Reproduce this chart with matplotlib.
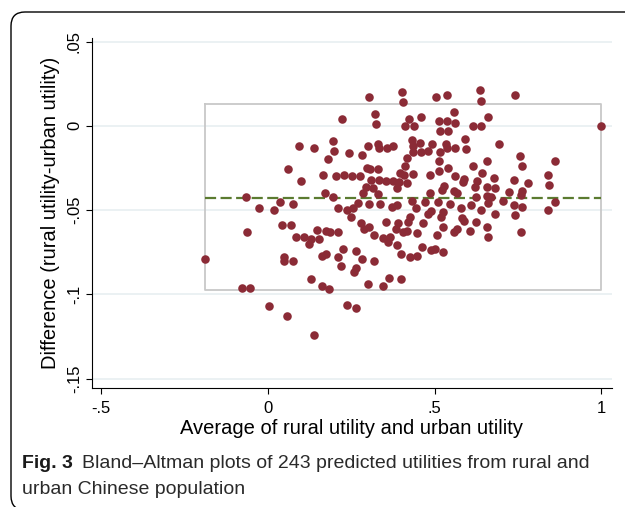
import matplotlib
matplotlib.use("Agg")
import matplotlib.pyplot as plt
import numpy as np
from matplotlib.patches import FancyBboxPatch
from matplotlib.transforms import IdentityTransform

# --- Bland-Altman data (average, difference) ---
avg_utility = [
    0.094, 0.139, 0.059, 0.100, -0.067,
    0.195, 0.198, 0.181, 0.164, 0.170, 0.196, 0.302, 0.402, 0.405, 0.505, 0.537,
    0.221, 0.322, 0.325, 0.424, 0.412, 0.437, 0.458, 0.513, 0.537, 0.515, 0.539,
    0.244, 0.281, 0.299, 0.331, 0.332, 0.356, 0.376, 0.431, 0.434, 0.457, 0.434,
    0.459, 0.480, 0.492, 0.533, 0.517, 0.537, 0.416, 0.512, 0.411, 0.298, 0.306,
    0.329, 0.540, 0.203, 0.228, 0.251, 0.275, 0.397, 0.408, 0.434, 0.486, 0.514,
    0.309, 0.334, 0.353, 0.376, 0.392, 0.416, 0.293, 0.315, 0.386, 0.529, 0.523,
    0.286, 0.329, 0.487,
    0.637, 0.640, 0.740, 0.558, 0.560, 0.661, 0.615, 0.640, 1.000, 0.592, 0.694,
    0.560, 0.595, 0.757, 0.762, 0.861, 0.658, 0.616, 0.643, 0.561, 0.589, 0.584,
    0.626, 0.677, 0.739, 0.781, 0.839, 0.842, 0.621, 0.656, 0.682, 0.558, 0.566,
    0.724, 0.761, 0.758, 0.658, 0.668, 0.624,
    -0.026, 0.019, 0.036, 0.074, 0.043, 0.068, -0.062, 0.083, 0.108, 0.128, 0.123,
    0.153, 0.146, -0.189, 0.048, 0.049, 0.074, 0.128, -0.078, -0.053, 0.002, 0.056,
    0.137,
    0.211, 0.236, 0.256, 0.250, 0.271, 0.304, 0.336, 0.371, 0.386, 0.433, 0.471,
    0.509, 0.444, 0.488, 0.481, 0.526, 0.519, 0.426, 0.421, 0.354, 0.279, 0.304,
    0.289, 0.391, 0.384, 0.466, 0.524, 0.418, 0.406, 0.446, 0.319, 0.344, 0.366,
    0.359, 0.506, 0.173, 0.186, 0.209, 0.386, 0.463, 0.489, 0.501, 0.526, 0.226,
    0.264, 0.174, 0.161, 0.209, 0.283, 0.319, 0.398, 0.425, 0.446, 0.218, 0.264,
    0.259, 0.363, 0.399, 0.299, 0.344, 0.161, 0.184, 0.238, 0.264,
    0.546, 0.579, 0.608, 0.638, 0.659, 0.706, 0.738, 0.761, 0.861, 0.840, 0.681,
    0.742, 0.582, 0.589, 0.625, 0.658, 0.661, 0.606, 0.568, 0.558, 0.760,
]
diff_utility = [
    -0.0118, -0.0130, -0.0258, -0.0327, -0.0421,
    -0.0090, -0.0151, -0.0199, -0.0292, -0.0400, -0.0424, 0.0171, 0.0200, 0.0139, 0.0171, 0.0181,
    0.0039, 0.0070, 0.0011, 0.0040, 0.0001, 0.0001, 0.0052, 0.0030, 0.0030, -0.0031, -0.0031,
    -0.0160, -0.0171, -0.0120, -0.0110, -0.0133, -0.0130, -0.0120, -0.0084, -0.0118, -0.0100, -0.0154,
    -0.0154, -0.0149, -0.0110, -0.0110, -0.0155, -0.0132, -0.0189, -0.0209, -0.0238, -0.0252, -0.0258,
    -0.0258, -0.0252, -0.0296, -0.0294, -0.0300, -0.0300, -0.0280, -0.0292, -0.0288, -0.0292, -0.0268,
    -0.0320, -0.0320, -0.0327, -0.0327, -0.0335, -0.0339, -0.0365, -0.0371, -0.0371, -0.0357, -0.0381,
    -0.0397, -0.0406, -0.0400,
    0.0212, 0.0149, 0.0181, 0.0080, 0.0018, 0.0052, 0.0001, 0.0001, 0.0000, -0.0080, -0.0110,
    -0.0130, -0.0139, -0.0181, -0.0240, -0.0211, -0.0211, -0.0240, -0.0280, -0.0298, -0.0317, -0.0333,
    -0.0326, -0.0311, -0.0321, -0.0339, -0.0292, -0.0351, -0.0361, -0.0361, -0.0371, -0.0387, -0.0400,
    -0.0391, -0.0387, -0.0410, -0.0416, -0.0424, -0.0421,
    -0.0489, -0.0499, -0.0454, -0.0464, -0.0590, -0.0590, -0.0632, -0.0660, -0.0660, -0.0673, -0.0701,
    -0.0673, -0.0620, -0.0792, -0.0778, -0.0802, -0.0802, -0.0910, -0.0960, -0.0960, -0.1071, -0.1130,
    -0.1241,
    -0.0489, -0.0499, -0.0489, -0.0539, -0.0456, -0.0464, -0.0464, -0.0480, -0.0470, -0.0446, -0.0450,
    -0.0450, -0.0489, -0.0505, -0.0525, -0.0509, -0.0539, -0.0539, -0.0569, -0.0569, -0.0578, -0.0598,
    -0.0612, -0.0578, -0.0612, -0.0578, -0.0598, -0.0622, -0.0632, -0.0638, -0.0648, -0.0667, -0.0658,
    -0.0687, -0.0648, -0.0622, -0.0632, -0.0632, -0.0707, -0.0721, -0.0737, -0.0731, -0.0750, -0.0731,
    -0.0741, -0.0760, -0.0770, -0.0780, -0.0790, -0.0800, -0.0760, -0.0780, -0.0770, -0.0830, -0.0842,
    -0.0869, -0.0901, -0.0909, -0.0940, -0.0950, -0.0950, -0.0970, -0.1061, -0.1079,
    -0.0464, -0.0489, -0.0470, -0.0499, -0.0456, -0.0444, -0.0470, -0.0480, -0.0454, -0.0499, -0.0521,
    -0.0531, -0.0549, -0.0563, -0.0571, -0.0602, -0.0661, -0.0622, -0.0612, -0.0632, -0.0632,
]

# summary lines as drawn in the figure
mean_diff = -0.0426
loa_upper = 0.0129
loa_lower = -0.0974

x_ticks = [-0.5, 0, 0.5, 1]
x_ticklabels = ["-.5", "0", ".5", "1"]
y_ticks = [0.05, 0, -0.05, -0.1, -0.15]
y_ticklabels = [".05", "0", "-.05", "-.1", "-.15"]

plt.rcParams['font.family'] = ['Liberation Sans', 'DejaVu Sans']

fig = plt.figure(figsize=(6.25, 5.07), dpi=100)
ax = fig.add_axes([0.1472, 0.2347, 0.8318, 0.6903])

x_min, x_max = min(avg_utility), max(avg_utility)

# grid lines (Stata style, very light)
for yt in y_ticks:
    ax.axhline(yt, color='#e8eff1', lw=1.2, zorder=0)

# limits-of-agreement box
ax.plot([x_min, x_max, x_max, x_min, x_min],
        [loa_upper, loa_upper, loa_lower, loa_lower, loa_upper],
        color='#c8c8c8', lw=1.3, zorder=1)

ax.scatter(avg_utility, diff_utility, s=38, color='#8b2b36', linewidths=0, zorder=3)

# mean difference line
ax.plot([x_min, x_max], [mean_diff, mean_diff], color='#5b7b30', lw=1.6,
        dashes=(5, 2), zorder=2)

ax.set_xlim(-0.5277, 1.0315)
ax.set_ylim(-0.1555, 0.0521)
ax.set_xticks(x_ticks)
ax.set_xticklabels(x_ticklabels)
ax.set_yticks(y_ticks)
ax.set_yticklabels(y_ticklabels, rotation=90, va='center')
ax.tick_params(direction='out', length=4.2, width=0.8, labelsize=12, colors='black')
ax.tick_params(axis='x', pad=5)
ax.tick_params(axis='y', pad=3)
for side in ['top', 'right']:
    ax.spines[side].set_visible(False)
for side in ['left', 'bottom']:
    ax.spines[side].set_linewidth(0.8)

ax.set_xlabel("Average of rural utility and urban utility", fontsize=14.5, labelpad=2)
ax.set_ylabel("Difference (rural utility-urban utility)", fontsize=14.5, labelpad=5)

# caption
cap_y1 = 1 - 464 / 507
cap_y2 = 1 - 489 / 507
t1 = fig.text(22 / 625, cap_y1, "Fig. 3", fontsize=14, fontweight='bold',
              va='center', ha='left', color='#1a1a1a')
fig.canvas.draw()
bb = t1.get_window_extent()
fig.text((bb.x1 + 9) / 625, cap_y1,
         "Bland\u2013Altman plots of 243 predicted utilities from rural and",
         fontsize=14, va='center', ha='left', color='#2a2a2a')
fig.text(22 / 625, cap_y2, "urban Chinese population",
         fontsize=14, va='center', ha='left', color='#2a2a2a')

# rounded frame around the figure panel (bottom edge falls just off the image)
frame = FancyBboxPatch((11, -3), 650, 498, boxstyle="round,pad=0,rounding_size=14",
                       transform=IdentityTransform(), fill=False, edgecolor='black', lw=1.0)
fig.patches.append(frame)

fig.savefig("out.png", dpi=100)
